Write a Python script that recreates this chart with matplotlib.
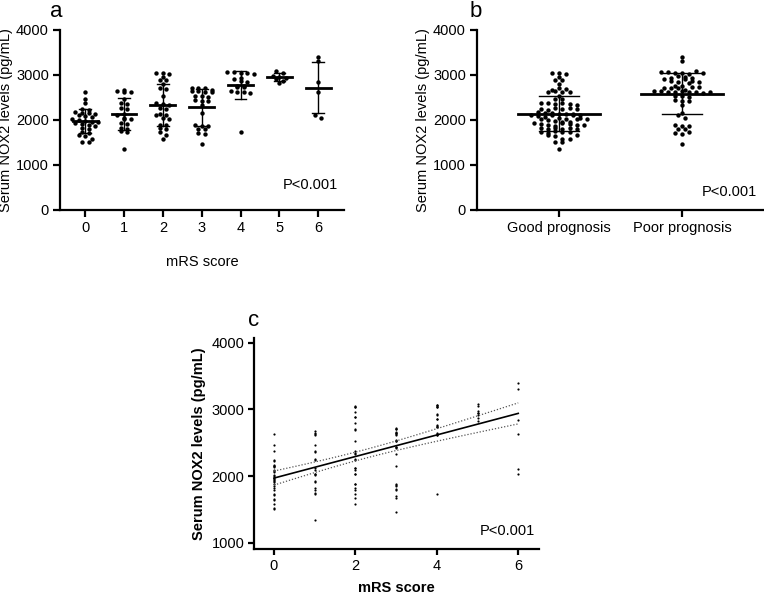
import numpy as np
import matplotlib
matplotlib.use('Agg')
import matplotlib.pyplot as plt

plt.rcParams['font.family'] = ['Liberation Sans', 'DejaVu Sans']

# serum NOX2 (pg/mL) per mRS score
mrs_0 = [2630, 2470, 2370, 2240, 2230, 2170, 2160, 2150, 2140, 2100,
         2080, 2060, 2020, 2000, 1980, 1960, 1950, 1930, 1920, 1890,
         1860, 1820, 1800, 1740, 1720, 1660, 1650, 1580, 1520, 1510]
mrs_1 = [2670, 2640, 2630, 2620, 2470, 2380, 2360, 2260, 2250, 2130,
         2100, 2040, 2030, 2020, 1930, 1920, 1820, 1800, 1750, 1740, 1350]
mrs_2 = [3050, 3040, 3030, 2960, 2890, 2880, 2800, 2700, 2690, 2530,
         2380, 2350, 2330, 2260, 2250, 2130, 2120, 2100, 2040, 2030,
         1890, 1880, 1820, 1800, 1740, 1670, 1580]
mrs_3 = [2720, 2710, 2700, 2660, 2650, 2640, 2630, 2620, 2540, 2530,
         2520, 2440, 2430, 2420, 2330, 2150, 1880, 1870, 1860, 1810,
         1800, 1700, 1680, 1470]
mrs_4 = [3070, 3060, 3050, 3040, 3030, 2930, 2920, 2860, 2850, 2760,
         2750, 2740, 2730, 2640, 2630, 2620, 2610, 1740]
mrs_5 = [3080, 3050, 2970, 2950, 2940, 2920, 2870, 2830]
mrs_6 = [3390, 3300, 2840, 2630, 2110, 2040]

groups = [mrs_0, mrs_1, mrs_2, mrs_3, mrs_4, mrs_5, mrs_6]
scores = [0, 1, 2, 3, 4, 5, 6]
prognosis_labels = ['Good prognosis', 'Poor prognosis']
good = sum(groups[:3], [])
poor = sum(groups[3:], [])


def swarm(vals, bin_w, dx):
    vals = np.asarray(vals, float)
    bins = np.round(vals / bin_w).astype(int)
    off = np.zeros(len(vals))
    for b in np.unique(bins):
        idx = np.where(bins == b)[0]
        n = len(idx)
        off[idx] = (np.arange(n) - (n - 1) / 2) * dx
    return off


def mean_sd(ax, x, vals, half_mean, half_cap):
    m = np.mean(vals)
    sd = np.std(vals, ddof=1)
    ax.plot([x, x], [m - sd, m + sd], color='black', lw=1, zorder=3)
    ax.plot([x - half_cap, x + half_cap], [m + sd, m + sd], color='black', lw=1, zorder=3)
    ax.plot([x - half_cap, x + half_cap], [m - sd, m - sd], color='black', lw=1, zorder=3)
    ax.plot([x - half_mean, x + half_mean], [m, m], color='black', lw=2, zorder=3)


def style(ax):
    for s in ['top', 'right']:
        ax.spines[s].set_visible(False)
    for s in ['left', 'bottom']:
        ax.spines[s].set_linewidth(1.6)
    ax.tick_params(width=1.6, length=5, labelsize=10.5, pad=3)


fig = plt.figure(figsize=(7.64, 5.96), dpi=100)

# panel a
ax_a = fig.add_axes([0.0785, 0.6477, 0.372, 0.302])
for x, g in zip(scores, groups):
    ax_a.scatter(x + swarm(g, 90, 0.17), g, s=10, color='black', zorder=2, linewidths=0)
    mean_sd(ax_a, x, g, 0.32, 0.15)
ax_a.set_xlim(-0.65, 6.67)
ax_a.set_ylim(0, 4000)
ax_a.set_yticks([0, 1000, 2000, 3000, 4000])
ax_a.set_xticks(scores)
ax_a.set_ylabel('Serum NOX2 levels (pg/mL)', fontsize=10.5, labelpad=2)
ax_a.set_xlabel('mRS score', fontsize=10.5, labelpad=14)
ax_a.text(0.979, 0.139, 'P<0.001', transform=ax_a.transAxes, ha='right', va='center', fontsize=10.5)
style(ax_a)

# panel b
ax_b = fig.add_axes([0.6243, 0.6477, 0.3757, 0.302])
for x, g in zip([0, 1], [good, poor]):
    ax_b.scatter(x + swarm(g, 90, 0.057), g, s=10, color='black', zorder=2, linewidths=0)
    mean_sd(ax_b, x, g, 0.33, 0.16)
ax_b.set_xlim(-0.667, 1.667)
ax_b.set_ylim(0, 4000)
ax_b.set_yticks([0, 1000, 2000, 3000, 4000])
ax_b.set_xticks([0, 1])
ax_b.set_xticklabels(prognosis_labels)
ax_b.set_ylabel('Serum NOX2 levels (pg/mL)', fontsize=10.5, labelpad=2)
ax_b.text(0.976, 0.1, 'P<0.001', transform=ax_b.transAxes, ha='right', va='center', fontsize=10.5)
style(ax_b)

# panel c: linear regression with 95% CI
xs = np.concatenate([np.full(len(g), s) for s, g in zip(scores, groups)]).astype(float)
ys = np.concatenate([np.asarray(g, float) for g in groups])
slope, icpt = np.polyfit(xs, ys, 1)
n = len(xs)
resid = ys - (icpt + slope * xs)
s_err = np.sqrt(np.sum(resid ** 2) / (n - 2))
xx = np.linspace(0, 6, 100)
yy = icpt + slope * xx
ci = 1.98 * s_err * np.sqrt(1 / n + (xx - xs.mean()) ** 2 / np.sum((xs - xs.mean()) ** 2))

ax_c = fig.add_axes([0.3325, 0.0789, 0.373, 0.354])
ax_c.scatter(xs, ys, s=2.5, color='black', linewidths=0, zorder=2)
ax_c.plot(xx, yy, color='black', lw=1.2)
ax_c.plot(xx, yy + ci, color='#555555', lw=0.9, ls=(0, (1, 1.5)))
ax_c.plot(xx, yy - ci, color='#555555', lw=0.9, ls=(0, (1, 1.5)))
ax_c.set_xlim(-0.49, 6.51)
ax_c.set_ylim(910, 4070)
ax_c.set_yticks([1000, 2000, 3000, 4000])
ax_c.set_xticks([0, 2, 4, 6])
ax_c.set_ylabel('Serum NOX2 levels (pg/mL)', fontsize=10.5, fontweight='bold', labelpad=4)
ax_c.set_xlabel('mRS score', fontsize=10.5, fontweight='bold', labelpad=6)
ax_c.text(0.986, 0.085, 'P<0.001', transform=ax_c.transAxes, ha='right', va='center', fontsize=10.5)
style(ax_c)
ax_c.tick_params(length=4)

fig.text(0.066, 0.9715, 'a', fontsize=16, va='baseline')
fig.text(0.614, 0.9715, 'b', fontsize=16, va='baseline')
fig.text(0.324, 0.453, 'c', fontsize=16, va='baseline')

fig.savefig('out.png', dpi=100)
